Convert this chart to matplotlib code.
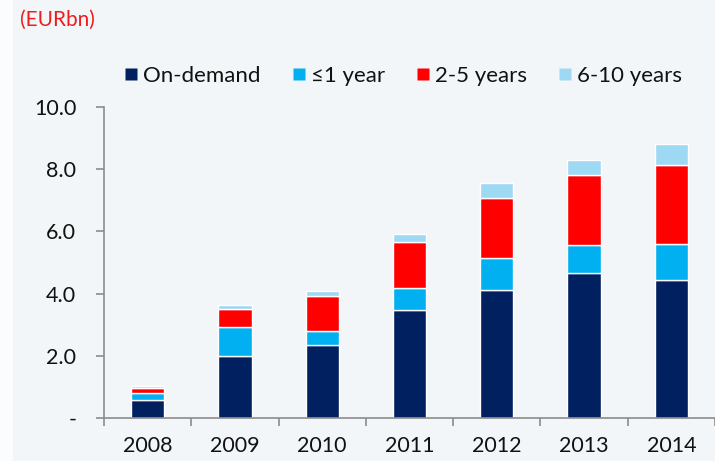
import matplotlib.pyplot as plt
import matplotlib.patches as mpatches
from matplotlib.lines import Line2D
import numpy as np

plt.rcParams['font.family'] = ['Lato', 'DejaVu Sans']

years = ['2008', '2009', '2010', '2011', '2012', '2013', '2014']
on_demand = [0.58, 1.98, 2.35, 3.47, 4.12, 4.65, 4.45]
up_to_1y = [0.21, 0.95, 0.46, 0.70, 1.03, 0.90, 1.16]
y2_5 = [0.17, 0.59, 1.11, 1.49, 1.94, 2.27, 2.52]
y6_10 = [0.08, 0.11, 0.15, 0.27, 0.47, 0.46, 0.68]

series = [
    ('On-demand', on_demand, '#002060'),
    ('\u22641 year', up_to_1y, '#00b0f0'),
    ('2-5 years', y2_5, '#ff0000'),
    ('6-10 years', y6_10, '#9dd9f3'),
]

panel_bg = '#f3f6f9'
axis_grey = '#8c8c8c'
text_col = '#111111'

fig = plt.figure(figsize=(7.15, 4.61), dpi=100)
fig.patch.set_facecolor('#fbfcfd')
# light panel behind everything except a thin strip on the left
fig.patches.append(mpatches.Rectangle((13 / 715, 0), 1, 1, transform=fig.transFigure,
                                      facecolor=panel_bg, edgecolor='none', zorder=-10))

ax = fig.add_axes([104 / 715, 43 / 461, 1 - 104 / 715, (418 - 107) / 461])
ax.set_facecolor('none')

x = np.arange(len(years))
bottom = np.zeros(len(years))
for name, vals, color in series:
    ax.bar(x, vals, width=0.38, bottom=bottom, color=color, edgecolor='white',
           linewidth=1.0, label=name)
    bottom += np.array(vals)

ax.set_xlim(-0.5, len(years) - 0.5)
ax.set_ylim(0, 10)
ax.set_yticks([0, 2, 4, 6, 8, 10])
ax.set_yticklabels(['-', '2.0', '4.0', '6.0', '8.0', '10.0'])
ax.set_xticks(x)
ax.set_xticklabels(years)
ax.set_xticks(np.arange(-0.5, len(years), 1), minor=True)

for s in ['top', 'right']:
    ax.spines[s].set_visible(False)
for s in ['left', 'bottom']:
    ax.spines[s].set_color(axis_grey)
    ax.spines[s].set_linewidth(1.2)

ax.tick_params(axis='y', length=6, color=axis_grey, width=1.2, labelsize=15.5,
               labelcolor=text_col, pad=14)
ax.tick_params(axis='x', which='major', length=0, labelsize=15.5,
               labelcolor=text_col, pad=13)
ax.tick_params(axis='x', which='minor', length=6, color=axis_grey, width=1.2)

handles = [Line2D([], [], marker='s', linestyle='none', markersize=8,
                  markerfacecolor=c, markeredgecolor='none') for _, _, c in series]
labels = [n for n, _, _ in series]
fig.legend(handles, labels, loc='center', bbox_to_anchor=(402 / 715, 1 - 76 / 461),
           ncol=4, frameon=False, fontsize=16, handletextpad=0.15, columnspacing=1.3,
           handlelength=0.8, labelcolor=text_col)

fig.text(20 / 715, 1 - 20 / 461, '(EURbn)', color='#ee1c1c', fontsize=15,
         ha='left', va='center')

fig.savefig('out.png', dpi=100, facecolor=fig.get_facecolor())
